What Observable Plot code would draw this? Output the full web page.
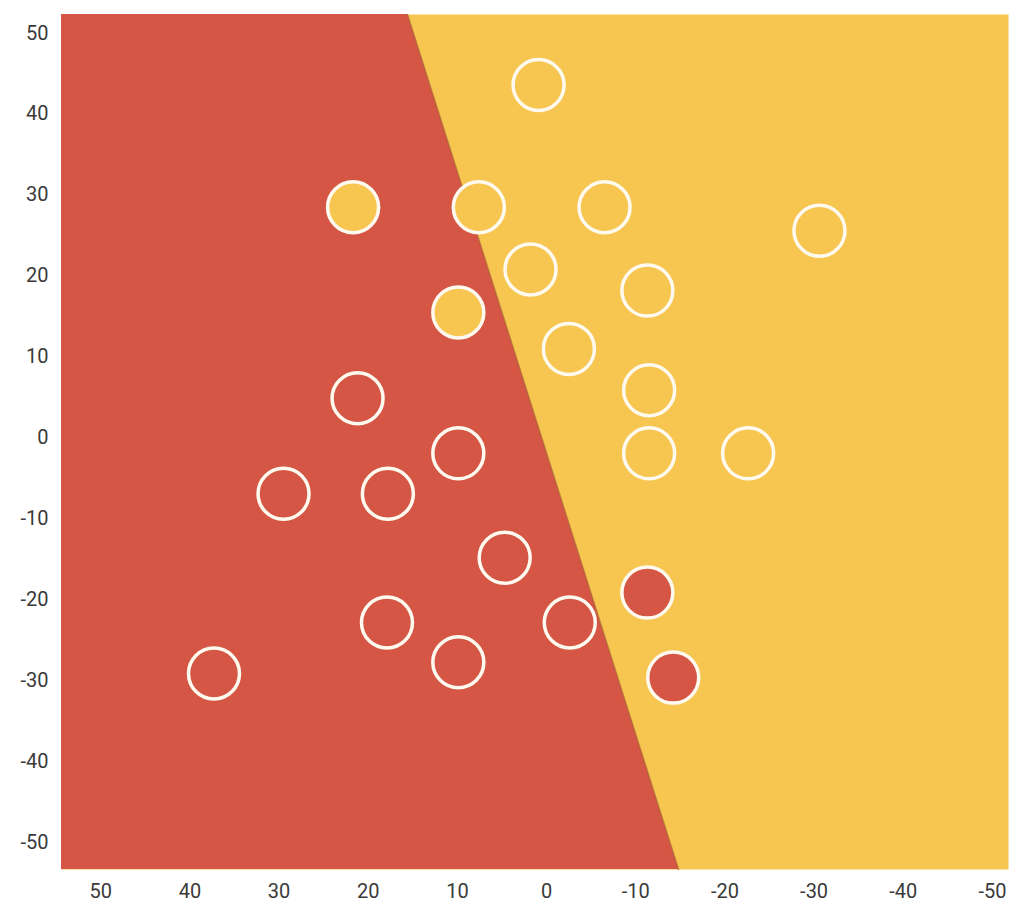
<!DOCTYPE html>
<html>
<head>
<meta charset="utf-8">
<script src="https://cdn.jsdelivr.net/npm/d3@7"></script>
<script src="https://cdn.jsdelivr.net/npm/@observablehq/plot@0.6"></script>
<style>
  html, body { margin: 0; padding: 0; background: #ffffff; }
  #chart { width: 1024px; height: 903px; }
</style>
</head>
<body>
<div id="chart"></div>
<script>
// ---- data ----
const xTicks = [50, 40, 30, 20, 10, 0, -10, -20, -30, -40, -50];
const yTicks = [50, 40, 30, 20, 10, 0, -10, -20, -30, -40, -50];
const xDomain = [54.4, -51.8];
const yDomain = [-53.3, 52.3];

// decision boundary endpoints
const boundaryX = [15.6, -14.8];
const boundaryY = [52.3, -53.3];

// points
const pointX = [0.9, 21.7, 7.6, -6.5, -30.6, 1.8, -11.3, 9.9, -2.5, 21.2, -11.5, 9.9, -11.5, -22.6, 29.5, 17.8, 4.7, -11.3, 17.9, -2.6, 9.9, 37.3, -14.2];
const pointY = [43.6, 28.5, 28.5, 28.5, 25.6, 20.8, 18.2, 15.5, 11.0, 4.9, 5.9, -1.9, -1.9, -1.9, -6.9, -6.9, -14.8, -19.1, -22.8, -22.8, -27.7, -29.1, -29.6];
const pointClass = ["yellow", "yellow", "yellow", "yellow", "yellow", "yellow", "yellow", "yellow", "yellow", "red", "yellow", "red", "yellow", "yellow", "red", "red", "red", "red", "red", "red", "red", "red", "red"];

const RED = "#d55644";
const YELLOW = "#f6c650";
const colorOf = {red: RED, yellow: YELLOW};

const boundary = boundaryX.map((x, i) => ({x, y: boundaryY[i]}));
const points = pointX.map((x, i) => ({x, y: pointY[i], cls: pointClass[i]}));

const chart = Plot.plot({
  width: 1024,
  height: 903,
  marginLeft: 61,
  marginRight: 16,
  marginTop: 14,
  marginBottom: 34,
  x: {domain: xDomain, label: null},
  y: {domain: yDomain, label: null},
  style: {fontFamily: "Roboto, 'Noto Sans', sans-serif", fontSize: "20px", color: "#3a3a3a", background: "#ffffff"},
  marks: [
    Plot.frame({fill: YELLOW}),
    Plot.areaX(boundary, {y: "y", x1: xDomain[0], x2: "x", fill: RED}),
    Plot.line(boundary, {x: "x", y: "y", stroke: "#9c4a30", strokeWidth: 1.5, strokeOpacity: 0.6}),
    Plot.dot(points, {x: "x", y: "y", r: 25.5, fill: d => colorOf[d.cls], stroke: "#fffaf0", strokeWidth: 3.5}),
    Plot.axisX(xTicks, {tickSize: 0, tickPadding: 14, tickFormat: d => String(d), fontSize: 20, label: null}),
    Plot.axisY(yTicks, {tickSize: 0, tickPadding: 13, tickFormat: d => String(d), fontSize: 20, label: null})
  ]
});
document.getElementById("chart").appendChild(chart);
</script>
</body>
</html>
